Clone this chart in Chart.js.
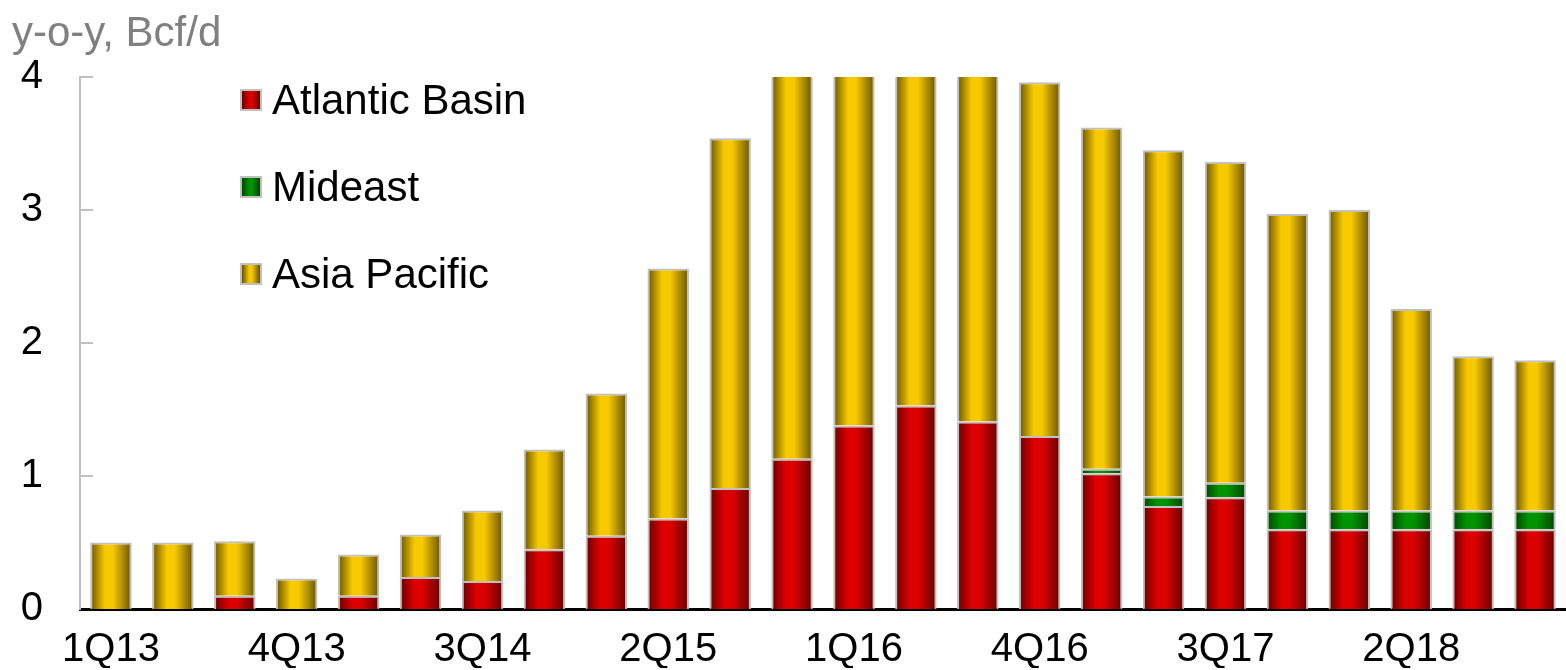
<!DOCTYPE html>
<html lang="en">

<head>
  <meta charset="UTF-8" />
  <title>LNG supply growth</title>
  <script src="https://cdn.jsdelivr.net/npm/chart.js"></script>
  <style>
    body { margin: 0; background: #fff; font-family: "Liberation Sans", Arial, sans-serif; }
    .wrap { position: relative; width: 1566px; height: 670px; }
    .unit { position: absolute; left: 12px; top: 8px; font-size: 42px; color: #808080; }
    .legend { position: absolute; left: 240px; top: 76px; }
    .legend div { height: 87px; line-height: 48px; font-size: 42px; color: #000; display: flex; align-items: flex-start; }
    .legend i { display: inline-block; width: 18px; height: 18px; border: 2px solid #c0c0c0; margin: 13px 10px 0 0; }
  </style>
</head>

<body>
  <div class="wrap">
    <canvas id="lngChart" width="1566" height="670"></canvas>
    <div class="unit">y-o-y, Bcf/d</div>
    <div class="legend" id="legend"></div>
  </div>

  <script>
    const quarters = ['1Q13', '2Q13', '3Q13', '4Q13', '1Q14', '2Q14', '3Q14', '4Q14',
      '1Q15', '2Q15', '3Q15', '4Q15', '1Q16', '2Q16', '3Q16', '4Q16',
      '1Q17', '2Q17', '3Q17', '4Q17', '1Q18', '2Q18', '3Q18', '4Q18'];
    const atlanticBasin = [0, 0, 0.10, 0, 0.10, 0.24, 0.21, 0.45,
      0.55, 0.68, 0.91, 1.13, 1.38, 1.53, 1.41, 1.30,
      1.02, 0.775, 0.84, 0.60, 0.60, 0.60, 0.60, 0.60];
    const mideast = [0, 0, 0, 0, 0, 0, 0, 0,
      0, 0, 0, 0, 0, 0, 0, 0,
      0.035, 0.07, 0.11, 0.14, 0.14, 0.14, 0.14, 0.14];
    const asiaPacific = [0.50, 0.50, 0.41, 0.23, 0.31, 0.32, 0.53, 0.75,
      1.07, 1.88, 2.63, 3.12, 3.07, 2.97, 2.89, 2.66,
      2.565, 2.605, 2.41, 2.23, 2.26, 1.515, 1.16, 1.13];
    const yTicks = [0, 1, 2, 3, 4];

    const BAR_PCT = 0.67;
    const colors = {
      atlantic: ['#660000', '#dc0000'],
      mideast: ['#004400', '#009400'],
      asia: ['#665200', '#f7c900']
    };

    // horizontal shading across each bar, dark at the edges
    function barFill(pair) {
      return (ctx) => {
        const x = ctx.chart.scales.x;
        if (!x || ctx.type !== 'data') return pair[1];
        const c = x.getPixelForValue(ctx.dataIndex);
        const half = (x.width / quarters.length) * BAR_PCT / 2;
        if (!isFinite(c) || !isFinite(half) || half <= 0) return pair[1];
        const g = ctx.chart.ctx.createLinearGradient(c - half, 0, c + half, 0);
        g.addColorStop(0, pair[0]);
        g.addColorStop(0.35, pair[1]);
        g.addColorStop(0.55, pair[1]);
        g.addColorStop(1, pair[0]);
        return g;
      };
    }

    // small tick marks pointing into the plot on the y axis
    const innerTicks = {
      id: 'innerTicks',
      afterDraw(chart) {
        const { ctx, chartArea, scales } = chart;
        ctx.save();
        ctx.strokeStyle = '#c0c0c0';
        ctx.lineWidth = 2;
        yTicks.slice(1).forEach(v => {
          const y = Math.round(scales.y.getPixelForValue(v));
          ctx.beginPath();
          ctx.moveTo(chartArea.left, y);
          ctx.lineTo(chartArea.left + 13, y);
          ctx.stroke();
        });
        ctx.restore();
      }
    };

    const series = [
      { label: 'Atlantic Basin', data: atlanticBasin, col: colors.atlantic },
      { label: 'Mideast', data: mideast, col: colors.mideast },
      { label: 'Asia Pacific', data: asiaPacific, col: colors.asia }
    ];

    new Chart(document.getElementById('lngChart'), {
      type: 'bar',
      data: {
        labels: quarters,
        datasets: series.map(s => ({
          label: s.label,
          data: s.data,
          backgroundColor: barFill(s.col),
          borderColor: '#c0c0c0',
          borderWidth: 2,
          categoryPercentage: 1,
          barPercentage: BAR_PCT,
          clip: 0
        }))
      },
      options: {
        responsive: false,
        animation: false,
        devicePixelRatio: 1,
        layout: { padding: { top: 77, right: 0, left: 0, bottom: 0 } },
        plugins: { legend: { display: false }, tooltip: { enabled: false } },
        scales: {
          x: {
            stacked: true,
            grid: { display: false, drawTicks: false },
            border: { display: true, color: '#000', width: 3 },
            ticks: {
              autoSkip: false,
              maxRotation: 0,
              padding: 17,
              color: '#000',
              font: { family: 'Liberation Sans', size: 40 },
              callback: (v, i) => (i % 3 === 0 ? quarters[i] : '')
            },
            afterFit: s => { s.height = 59; }
          },
          y: {
            stacked: true,
            min: 0,
            max: 4,
            grid: { display: false, drawTicks: false },
            border: { display: true, color: '#c0c0c0', width: 2 },
            ticks: {
              stepSize: 1,
              padding: 37,
              color: '#000',
              font: { family: 'Liberation Sans', size: 40 }
            },
            afterFit: s => { s.width = 80; }
          }
        }
      },
      plugins: [innerTicks]
    });

    // legend placed inside the plot like the original
    const legend = document.getElementById('legend');
    series.forEach(s => {
      const row = document.createElement('div');
      row.innerHTML = `<i style="background:linear-gradient(90deg, ${s.col[0]}, ${s.col[1]} 40%, ${s.col[1]} 55%, ${s.col[0]})"></i>${s.label}`;
      legend.appendChild(row);
    });
  </script>
</body>

</html>
